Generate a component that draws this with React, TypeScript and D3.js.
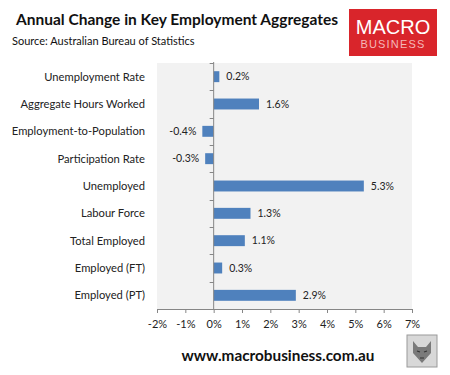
import { useEffect, useRef } from 'react';
import * as d3 from 'd3';

const width = 450;
const height = 375;

const categories = [
  'Unemployment Rate',
  'Aggregate Hours Worked',
  'Employment-to-Population',
  'Participation Rate',
  'Unemployed',
  'Labour Force',
  'Total Employed',
  'Employed (FT)',
  'Employed (PT)',
];
const changes = [0.2, 1.6, -0.4, -0.3, 5.3, 1.3, 1.1, 0.3, 2.9];
const xTicks = [-2, -1, 0, 1, 2, 3, 4, 5, 6, 7];

const font = 'Lato, "Open Sans", sans-serif';

const plot = { left: 157, right: 412, top: 63, bottom: 309 };

export default function App() {
  const ref = useRef<SVGSVGElement>(null);

  useEffect(() => {
    const svg = d3.select(ref.current);
    svg.selectAll('*').remove();

    const x = d3.scaleLinear().domain([-2, 7]).range([plot.left, plot.right]);
    const y = d3.scaleBand().domain(categories).range([plot.top, plot.bottom]).paddingInner(0.6).paddingOuter(0.3);
    const band = d3.scaleBand().domain(categories).range([plot.top, plot.bottom]);

    svg.append('rect').attr('width', width).attr('height', height).attr('fill', '#fff');

    // header
    svg.append('text').attr('x', 16).attr('y', 25).attr('font-family', font).attr('font-weight', 700)
      .attr('font-size', 15.5).attr('fill', '#111').text('Annual Change in Key Employment Aggregates');
    svg.append('text').attr('x', 12).attr('y', 45).attr('font-family', font)
      .attr('font-size', 11).attr('fill', '#111').text('Source: Australian Bureau of Statistics');

    const logo = svg.append('g').attr('transform', 'translate(349,9)');
    logo.append('rect').attr('width', 88).attr('height', 47).attr('fill', '#d9252b');
    logo.append('text').attr('x', 44).attr('y', 25).attr('text-anchor', 'middle').attr('font-family', 'Liberation Sans, Arial, sans-serif')
      .attr('font-size', 20).attr('fill', '#fff').text('MACRO');
    logo.append('text').attr('x', 44).attr('y', 39).attr('text-anchor', 'middle').attr('font-family', 'Liberation Sans, Arial, sans-serif')
      .attr('font-size', 11).attr('letter-spacing', 1.2).attr('fill', '#f4b8b8').text('BUSINESS');

    // plot background
    svg.append('rect').attr('x', plot.left).attr('y', plot.top)
      .attr('width', plot.right - plot.left).attr('height', plot.bottom - plot.top).attr('fill', '#f2f2f2');

    // bars
    svg.append('g').selectAll('rect').data(changes).join('rect')
      .attr('x', (d) => x(Math.min(0, d)))
      .attr('y', (_, i) => y(categories[i])!)
      .attr('width', (d) => Math.abs(x(d) - x(0)))
      .attr('height', y.bandwidth())
      .attr('fill', '#4f81bd');

    // data labels
    svg.append('g').selectAll('text').data(changes).join('text')
      .attr('x', (d) => (d >= 0 ? x(d) + 7 : x(d) - 6))
      .attr('y', (_, i) => y(categories[i])! + y.bandwidth() / 2)
      .attr('dy', '0.35em')
      .attr('text-anchor', (d) => (d >= 0 ? 'start' : 'end'))
      .attr('font-family', font).attr('font-size', 10.5).attr('fill', '#222')
      .text((d) => `${d.toFixed(1)}%`);

    // category labels
    svg.append('g').selectAll('text').data(categories).join('text')
      .attr('x', 145)
      .attr('y', (d) => band(d)! + band.bandwidth() / 2)
      .attr('dy', '0.35em')
      .attr('text-anchor', 'end')
      .attr('font-family', font).attr('font-size', 11.2).attr('fill', '#222')
      .text((d) => d);

    // vertical axis at zero
    const axisColor = '#868686';
    svg.append('line').attr('x1', x(0)).attr('x2', x(0)).attr('y1', plot.top - 1).attr('y2', plot.bottom)
      .attr('stroke', axisColor);
    const bounds = [...categories.map((c) => band(c)!), plot.bottom];
    svg.append('g').selectAll('line').data(bounds).join('line')
      .attr('x1', x(0) - 4).attr('x2', x(0)).attr('y1', (d) => Math.round(d) + 0.5).attr('y2', (d) => Math.round(d) + 0.5)
      .attr('stroke', axisColor);

    // x axis
    const xAxis = svg.append('g').attr('transform', `translate(0,${plot.bottom})`)
      .call(d3.axisBottom(x).tickValues(xTicks).tickSize(4).tickFormat((d) => `${d}%`));
    xAxis.select('.domain').attr('stroke', axisColor);
    xAxis.selectAll('.tick line').attr('stroke', axisColor);
    xAxis.selectAll('.tick text').attr('font-family', font).attr('font-size', 11).attr('fill', '#222').attr('dy', '1.1em');

    // footer
    svg.append('text').attr('x', 278).attr('y', 361).attr('text-anchor', 'middle').attr('font-family', font)
      .attr('font-weight', 700).attr('font-size', 15.3).attr('fill', '#111').text('www.macrobusiness.com.au');

    const wolf = svg.append('g').attr('transform', 'translate(407,335)');
    wolf.append('rect').attr('width', 30).attr('height', 32).attr('fill', '#d8d8d8').attr('stroke', '#9a9a9a');
    wolf.append('path').attr('d', 'M6,6 L11,12 L19,12 L24,6 L24,18 L15,28 L6,18 Z').attr('fill', '#7a7a7a');
    wolf.append('path').attr('d', 'M10,16 L13,17 M20,16 L17,17 M13,23 L17,23').attr('stroke', '#333').attr('stroke-width', 1.2);
  }, []);

  return (
    <svg ref={ref} width={width} height={height}
      style={{ display: 'block', position: 'absolute', left: 0, top: 0 }} />
  );
}
